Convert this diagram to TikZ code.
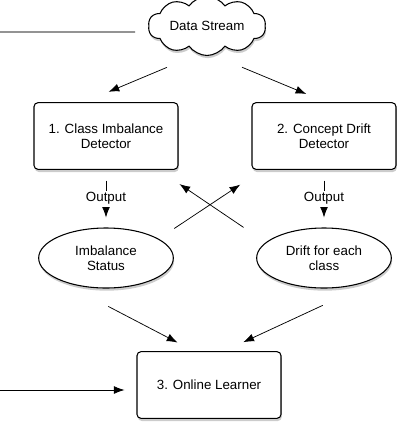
\documentclass[tikz,border=0pt]{standalone}
\usepackage{fontspec}
\setmainfont{Liberation Sans}
\usetikzlibrary{shapes.symbols, shapes.geometric, arrows.meta, shadows, calc}

\begin{document}
\begin{tikzpicture}[x=0.75pt,y=-0.75pt,
	font=\fontsize{10}{11.5}\selectfont,
	softshadow/.style={drop shadow={opacity=0.4,shadow xshift=0.6pt,shadow yshift=-2pt}},
	detector/.style={rectangle,rounded corners=3pt,draw,line width=0.8pt,fill=white,
		minimum width=108pt,minimum height=50pt,align=center,softshadow},
	result/.style={ellipse,draw,line width=0.8pt,fill=white,inner sep=0pt,
		minimum width=101pt,minimum height=45pt,align=center,softshadow},
	arr/.style={-{Latex[length=8pt,width=6pt]},line width=0.55pt}]

	\useasboundingbox (0,0) rectangle (400,430);

	% data stream

	\node[cloud,draw,line width=0.8pt,fill=white,cloud puffs=10,cloud puff arc=110,aspect=2.4,inner sep=0pt,
		minimum width=88pt,minimum height=34pt,softshadow] (stream) at (207,26) {Data Stream};
	\coordinate (feed) at (0,32);
	\draw[line width=0.8pt,color=black!65,shorten >=10pt] (feed) -- ($(stream.west)+(0,6)$);

	% detectors

	\node[detector] (imbdet) at (106,136) {1. Class Imbalance\\Detector};
	\node[detector] (driftdet) at (324,136) {2. Concept Drift\\Detector};

	\draw[arr,shorten <=22pt,shorten >=20pt] ($(stream.south)+(-13,0)$) -- ($(imbdet.north)+(-22,0)$);
	\draw[arr,shorten <=22pt,shorten >=16pt] ($(stream.south)+(8,0)$) -- ($(driftdet.north)+(2,0)$);

	% outputs

	\node[result] (imbstat) at (106,258) {Imbalance\\Status};
	\node[result] (driftstat) at (324,258) {Drift for each\\class};

	\draw[arr,shorten <=8pt,shorten >=7.5pt] (imbdet.south) -- node[fill=white,inner sep=1.5pt]{Output} (imbstat.north);
	\draw[arr,shorten <=8pt,shorten >=7.5pt] (driftdet.south) -- node[fill=white,inner sep=1.5pt]{Output} (driftstat.north);

	% crossed feedback

	\draw[arr,shorten <=14pt,shorten >=20pt] (imbstat.20) -- ($(driftdet.south west)+(11,0)$);
	\draw[arr,shorten <=20pt,shorten >=19pt] (driftstat.165) -- ($(imbdet.south east)+(-20,0)$);

	% learner

	\node[detector] (learner) at (209,385) {3. Online Learner};
	\coordinate (input) at (0,390);

	\draw[arr,shorten <=29pt,shorten >=14pt] ($(imbstat.south)+(-32,0)$) -- ($(learner.north)+(-15,0)$);
	\draw[arr,shorten <=30pt,shorten >=16pt] ($(driftstat.south)+(35,0)$) -- ($(learner.north)+(15,0)$);
	\draw[arr,shorten >=9pt] (input) -- ($(learner.west)+(0,5)$);

\end{tikzpicture}
\end{document}
